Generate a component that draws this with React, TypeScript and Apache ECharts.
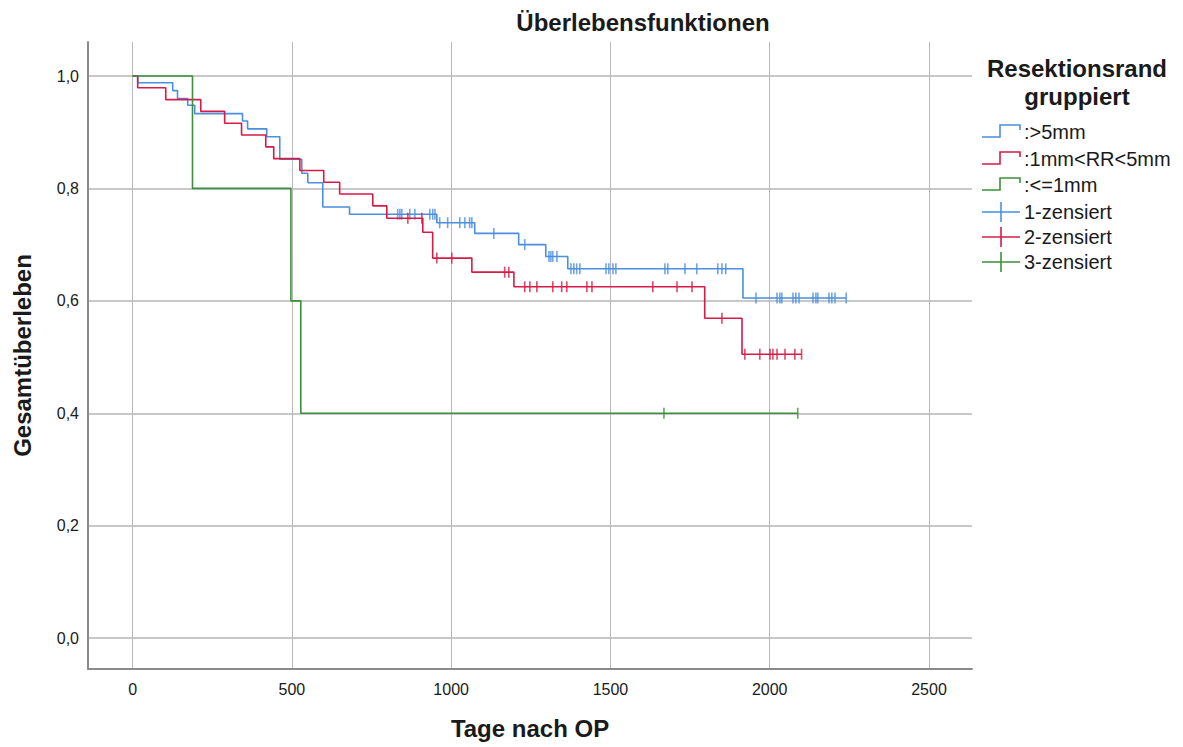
import React, { useEffect, useRef } from 'react';
import * as echarts from 'echarts';

const chartTitle = 'Überlebensfunktionen';
const xAxisTitle = 'Tage nach OP';
const yAxisTitle = 'Gesamtüberleben';
const legendTitle = ['Resektionsrand', 'gruppiert'];
const groupNames = [':>5mm', ':1mm<RR<5mm', ':<=1mm'];
const censorNames = ['1-zensiert', '2-zensiert', '3-zensiert'];
const xTicks = [0, 500, 1000, 1500, 2000, 2500];
const yTicks = [0, 0.2, 0.4, 0.6, 0.8, 1.0];

// Kaplan-Meier steps: time (days) and survival after the event at that time
const blueTimes = [0, 16, 126, 141, 173, 195, 345, 361, 421, 462, 531, 550, 597, 681, 955, 1074, 1212, 1297, 1366, 1916, 2240];
const blueSurv = [1.0, 0.988, 0.974, 0.96, 0.948, 0.933, 0.92, 0.906, 0.892, 0.852, 0.827, 0.81, 0.767, 0.754, 0.739, 0.72, 0.7, 0.679, 0.657, 0.605, 0.605];
const blueCensor = [832, 839, 845, 870, 886, 933, 942, 949, 964, 989, 1027, 1043, 1058, 1065, 1134, 1231, 1307, 1313, 1319, 1332, 1376, 1385, 1394, 1404, 1486, 1495, 1508, 1517, 1671, 1680, 1734, 1771, 1837, 1850, 1862, 1957, 2023, 2032, 2038, 2073, 2082, 2092, 2136, 2145, 2151, 2186, 2195, 2205, 2240];

const redTimes = [0, 16, 104, 214, 289, 342, 418, 443, 525, 600, 650, 754, 798, 911, 942, 1065, 1197, 1796, 1913, 2100];
const redSurv = [1.0, 0.979, 0.958, 0.937, 0.916, 0.895, 0.874, 0.853, 0.832, 0.811, 0.79, 0.769, 0.747, 0.722, 0.676, 0.651, 0.625, 0.569, 0.505, 0.505];
const redCensor = [864, 908, 955, 1002, 1168, 1181, 1231, 1247, 1269, 1319, 1347, 1363, 1426, 1442, 1633, 1709, 1756, 1850, 1922, 1969, 2001, 2010, 2023, 2048, 2079, 2100];

const greenTimes = [0, 188, 497, 528, 2088];
const greenSurv = [1.0, 0.8, 0.6, 0.4, 0.4];
const greenCensor = [1668, 2088];

const colors = ['#4a8fe0', '#d81b46', '#3d8f3d'];
const FONT = '"Liberation Sans", Arial, sans-serif';

function survAt(times: number[], surv: number[], t: number) {
  let v = surv[0];
  for (let i = 0; i < times.length; i++) {
    if (times[i] <= t) v = surv[i];
  }
  return v;
}

const groups = [
  { times: blueTimes, surv: blueSurv, censor: blueCensor },
  { times: redTimes, surv: redSurv, censor: redCensor },
  { times: greenTimes, surv: greenSurv, censor: greenCensor },
];

export default function App() {
  const ref = useRef<HTMLDivElement>(null);
  useEffect(() => {
    if (!ref.current) return;
    const chart = echarts.init(ref.current, undefined, { renderer: 'svg' });
    const series: any[] = [];
    groups.forEach((g, k) => {
      series.push({
        type: 'line',
        name: groupNames[k],
        step: 'end',
        showSymbol: false,
        symbol: 'none',
        data: g.times.map((t, i) => [t, g.surv[i]]),
        lineStyle: { color: colors[k], width: 1.6 },
        z: 3 + k,
        silent: true,
      });
      series.push({
        type: 'scatter',
        name: censorNames[k],
        symbol: 'rect',
        symbolSize: [1.6, 11],
        data: g.censor.map((t) => [t, survAt(g.times, g.surv, t)]),
        itemStyle: { color: colors[k] },
        z: 3 + k,
        silent: true,
      });
    });

    const graphics: any[] = [];
    const txt = (text: string, x: number, y: number, font: string, align = 'center') => ({
      type: 'text',
      x,
      y,
      style: {
        text,
        font,
        fill: '#1a1a1a',
        align,
        textAlign: align,
        verticalAlign: 'middle',
        textVerticalAlign: 'middle',
      },
    });
    graphics.push(txt(chartTitle, 643, 22, `bold 24px ${FONT}`));
    graphics.push(txt(legendTitle[0], 1077, 68, `bold 24px ${FONT}`));
    graphics.push(txt(legendTitle[1], 1077, 96, `bold 24px ${FONT}`));
    const rows = [132, 159, 185, 212, 237, 262];
    groupNames.forEach((n, k) => {
      const y = rows[k];
      graphics.push({
        type: 'polyline',
        shape: { points: [[982, y + 5], [1000, y + 5], [1000, y - 7], [1020, y - 7], [1020, y - 2]] },
        style: { stroke: colors[k], lineWidth: 1.6, fill: null },
      });
      graphics.push(txt(n, 1024, y, `20px ${FONT}`, 'left'));
    });
    censorNames.forEach((n, k) => {
      const y = rows[k + 3];
      graphics.push({
        type: 'line',
        shape: { x1: 982, y1: y, x2: 1020, y2: y },
        style: { stroke: colors[k], lineWidth: 1.6 },
      });
      graphics.push({
        type: 'line',
        shape: { x1: 1001, y1: y - 10, x2: 1001, y2: y + 10 },
        style: { stroke: colors[k], lineWidth: 1.6 },
      });
      graphics.push(txt(n, 1024, y, `20px ${FONT}`, 'left'));
    });

    chart.setOption({
      animation: false,
      backgroundColor: '#ffffff',
      textStyle: { fontFamily: FONT },
      grid: { left: 88, top: 42, right: 211, bottom: 78, containLabel: false, outerBoundsMode: 'none' },
      xAxis: {
        type: 'value',
        min: -140,
        max: 2635,
        name: xAxisTitle,
        nameLocation: 'middle',
        nameGap: 47,
        nameTextStyle: { fontSize: 24, fontWeight: 'bold', color: '#1a1a1a', fontFamily: FONT },
        axisLine: { show: true, onZero: false, lineStyle: { color: '#8a8a8a', width: 2 } },
        axisTick: { show: false, customValues: xTicks },
        axisLabel: {
          customValues: xTicks,
          fontSize: 16,
          color: '#1a1a1a',
          margin: 12,
          fontFamily: FONT,
          formatter: (v: number) => String(v),
        },
        splitLine: { show: true, lineStyle: { color: '#b8b8b8', width: 1 } },
      },
      yAxis: {
        type: 'value',
        min: -0.055,
        max: 1.0605,
        name: yAxisTitle,
        nameLocation: 'middle',
        nameGap: 54,
        nameTextStyle: { fontSize: 24, fontWeight: 'bold', color: '#1a1a1a', fontFamily: FONT },
        axisLine: { show: true, onZero: false, lineStyle: { color: '#8a8a8a', width: 2 } },
        axisTick: { show: false, customValues: yTicks },
        axisLabel: {
          customValues: yTicks,
          fontSize: 16,
          color: '#1a1a1a',
          margin: 9,
          fontFamily: FONT,
          formatter: (v: number) => v.toFixed(1).replace('.', ','),
        },
        splitLine: { show: true, lineStyle: { color: '#c8c8c8', width: 2 } },
      },
      graphic: graphics,
      series,
    });
    return () => chart.dispose();
  }, []);
  return (
    <div
      ref={ref}
      style={{ position: 'fixed', left: 0, top: 0, width: 1183, height: 747, background: '#fff' }}
    />
  );
}
